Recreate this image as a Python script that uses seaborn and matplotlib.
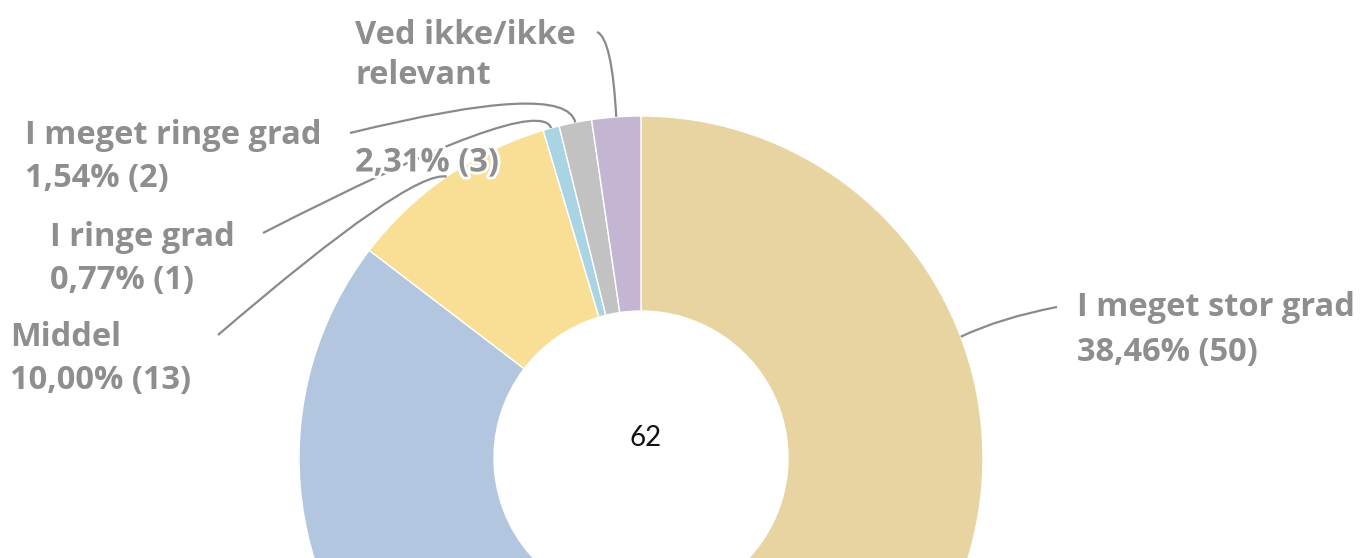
import numpy as np
import matplotlib
matplotlib.use("Agg")
import matplotlib.pyplot as plt
import matplotlib.patheffects as pe
from matplotlib.path import Path
from matplotlib.patches import PathPatch
import seaborn as sns

# ---- data ----
categories = ["I meget stor grad", "I stor grad", "Middel", "I ringe grad",
              "I meget ringe grad", "Ved ikke/ikke relevant"]
counts = [50, 61, 13, 1, 2, 3]
pct_labels = ["38,46% (50)", "46,92% (61)", "10,00% (13)", "0,77% (1)",
              "1,54% (2)", "2,31% (3)"]
center_label = "62"
colors = ["#E8D4A1", "#B3C6DF", "#F9DF95", "#A8D4E4", "#C2C2C2", "#C4B6D3"]

sns.set_theme(style="white")
plt.rcParams['font.family'] = ['Open Sans', 'DejaVu Sans']

W, H = 1363, 558
fig = plt.figure(figsize=(W / 100, H / 100), dpi=100)
ax = fig.add_axes([0, 0, 1, 1])

cx, cy = 641, H - 458
R, r = 342, 147
wedges, _ = ax.pie(counts, colors=colors, startangle=90, counterclock=False,
                   center=(cx, cy), radius=R,
                   wedgeprops=dict(width=R - r, edgecolor="white", linewidth=1))
ax.set_xlim(0, W)
ax.set_ylim(0, H)
ax.set_aspect("equal")
ax.axis("off")

ax.text(cx + 5, H - 438, center_label, ha="center", va="center", fontsize=20,
        color="#111111", family=["Lato", "DejaVu Sans"])

text_color = "#8E8E8E"
line_color = "#8A8A8A"
fs = 23.5

def mid_point(i, extra=0.0):
    w = wedges[i]
    ang = np.deg2rad((w.theta1 + w.theta2) / 2)
    return cx + (R + extra) * np.cos(ang), cy + (R + extra) * np.sin(ang)

def leader(i, end, ctrl):
    p0 = mid_point(i)
    p1 = (ctrl[0], H - ctrl[1])
    p2 = (end[0], H - end[1])
    path = Path([p0, p1, p2], [Path.MOVETO, Path.CURVE3, Path.CURVE3])
    ax.add_patch(PathPatch(path, facecolor="none", edgecolor=line_color,
                           lw=1.6, zorder=3))

# leaders
leader(0, (1057, 307), ctrl=(1000, 318))
leader(5, (597, 32), ctrl=(612, 38))
leader(4, (350, 133), ctrl=(566, 80))
leader(3, (263, 233), ctrl=(538, 92))
leader(2, (218, 335), ctrl=(410, 170))

halo = [pe.withStroke(linewidth=4, foreground="white")]

def label(x, y, s, **kw):
    ax.text(x, H - y, s, ha="left", va="center", fontsize=fs,
            color=text_color, fontweight="bold", zorder=5, **kw)

label(1077, 308, categories[0])
label(1077, 352, pct_labels[0])
label(10, 338, categories[2])
label(10, 381, pct_labels[2])
label(50, 238, categories[3])
label(50, 280, pct_labels[3])
label(25, 135, categories[4])
label(25, 178, pct_labels[4])
label(355, 35, "Ved ikke/ikke")
label(355, 76, "relevant")
label(355, 163, pct_labels[5], path_effects=halo)

fig.savefig("out.png", dpi=100)
